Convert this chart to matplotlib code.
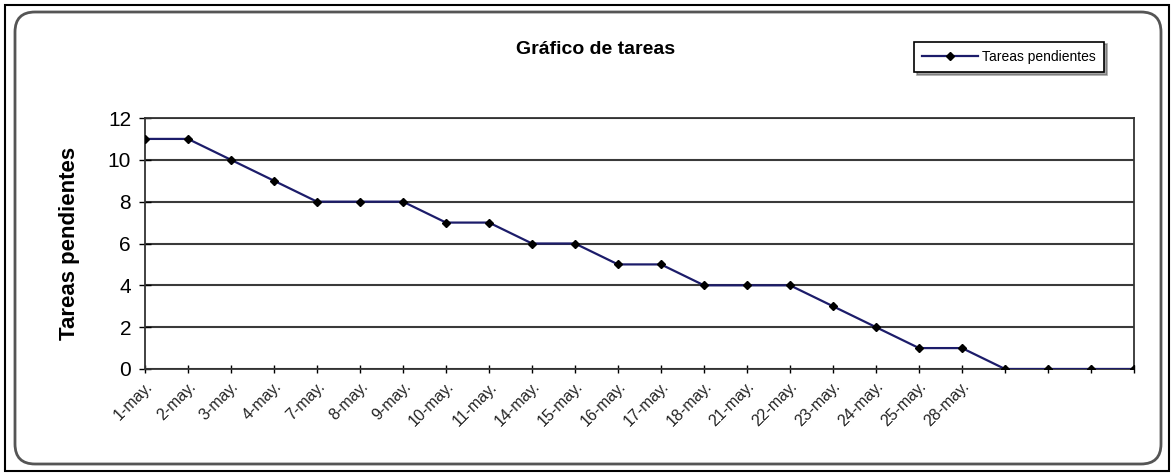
import matplotlib
matplotlib.use("Agg")
import matplotlib.pyplot as plt
from matplotlib.patches import Rectangle, FancyBboxPatch

categories = ["1-may.", "2-may.", "3-may.", "4-may.", "7-may.", "8-may.", "9-may.",
              "10-may.", "11-may.", "14-may.", "15-may.", "16-may.", "17-may.",
              "18-may.", "21-may.", "22-may.", "23-may.", "24-may.", "25-may.",
              "28-may.", "", "", "", ""]
pending = [11, 11, 10, 9, 8, 8, 8, 7, 7, 6, 6, 5, 5, 4, 4, 4, 3, 2, 1, 1, 0, 0, 0, 0]
yticks = [0, 2, 4, 6, 8, 10, 12]
title = "Gráfico de tareas"
ylabel = "Tareas pendientes"
series_name = "Tareas pendientes"

plt.rcParams['font.family'] = ['Liberation Sans', 'DejaVu Sans']

W, H = 1175, 476
fig = plt.figure(figsize=(W / 100, H / 100), dpi=100)
fig.patch.set_facecolor("white")

# outer black frame (pixel -> inch coords)
fig.add_artist(Rectangle((5 / 100, 5 / 100), 1164 / 100, 466 / 100,
                         transform=fig.dpi_scale_trans,
                         fill=False, edgecolor="black", linewidth=1.5))
# inner rounded gray frame
fig.add_artist(FancyBboxPatch((15 / 100, 12 / 100), 1146 / 100, 452 / 100,
                              boxstyle="round,pad=0,rounding_size=0.2",
                              transform=fig.dpi_scale_trans, fill=False,
                              edgecolor="#555555", linewidth=2.0))

ax = fig.add_axes([145 / W, (H - 369) / H, (1134 - 145) / W, (369 - 118) / H])
x = list(range(len(pending)))
line, = ax.plot(x, pending, color="#1c1c6a", linewidth=1.6, marker="D",
                markersize=4, markerfacecolor="black", markeredgecolor="black",
                label=series_name, zorder=3)

ax.set_xlim(0, len(pending) - 1)
ax.set_ylim(0, 12)
ax.set_yticks(yticks)
ax.set_yticklabels([str(v) for v in yticks], fontsize=15)
ax.set_xticks(x)
ax.set_xticklabels(categories, rotation=45, ha="right", va="top",
                   rotation_mode="anchor", fontsize=11.5, color="#222222")
ax.tick_params(axis="x", direction="inout", length=6, width=1, pad=4)
ax.tick_params(axis="y", direction="inout", length=8, width=1, pad=6)
ax.grid(axis="y", color="#3a3a3a", linewidth=1.5)
ax.set_axisbelow(True)
for s in ax.spines.values():
    s.set_color("#333333")
    s.set_linewidth(1.3)

ax.set_ylabel(ylabel, fontsize=16, fontweight="bold", labelpad=20)
fig.text(596 / W, 1 - 50 / H, title, ha="center", va="center",
         fontsize=14, fontweight="bold")

leg = fig.legend(handles=[line], loc="center",
                 bbox_to_anchor=(1009 / W, 1 - 57 / H), fontsize=10,
                 frameon=True, fancybox=False, shadow=True,
                 edgecolor="black", borderpad=0.6, handlelength=4.0,
                 handletextpad=0.3)
leg.get_frame().set_linewidth(1.2)

fig.savefig("out.png", dpi=100, facecolor="white")
